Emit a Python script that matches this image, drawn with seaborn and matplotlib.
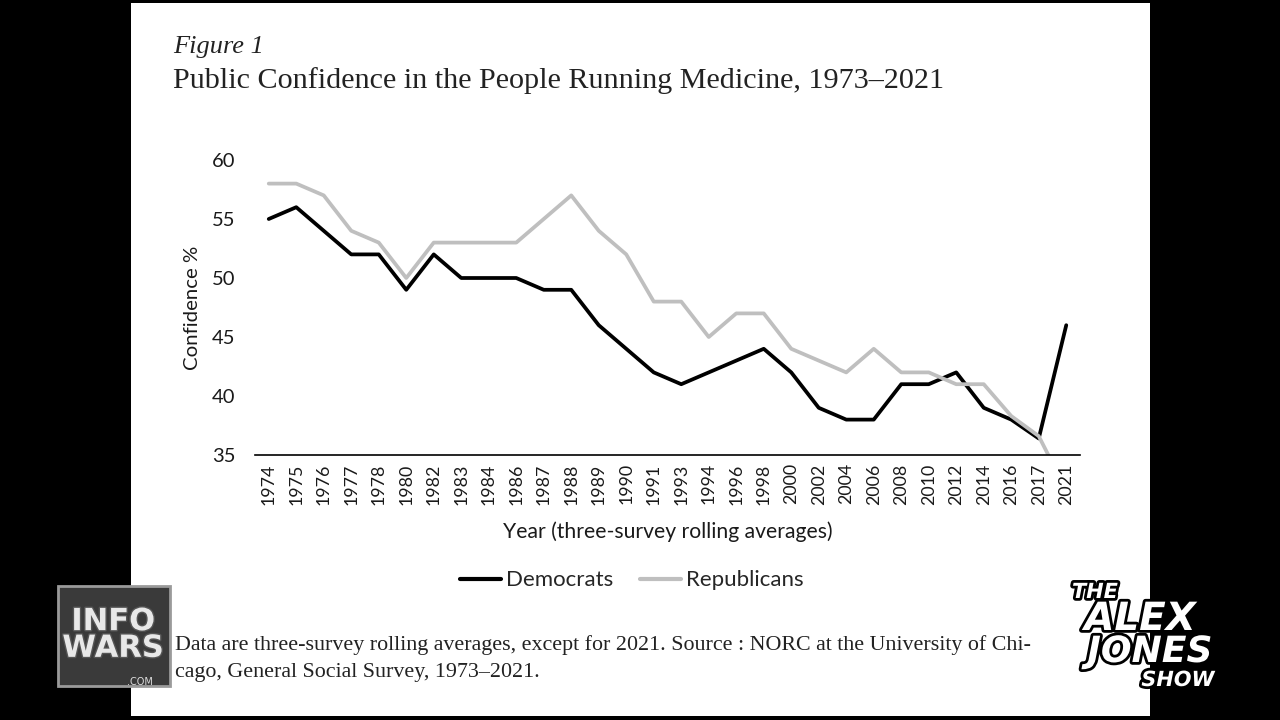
import matplotlib
matplotlib.use("Agg")
import matplotlib.pyplot as plt
import matplotlib.patheffects as pe
from matplotlib.patches import Rectangle
import seaborn as sns
import pandas as pd

years = ["1974", "1975", "1976", "1977", "1978", "1980", "1982", "1983", "1984", "1986",
         "1987", "1988", "1989", "1990", "1991", "1993", "1994", "1996", "1998", "2000",
         "2002", "2004", "2006", "2008", "2010", "2012", "2014", "2016", "2017", "2021"]
democrats = [55, 56, 54, 52, 52, 49, 52, 50, 50, 50,
             49, 49, 46, 44, 42, 41, 42, 43, 44, 42,
             39, 38, 38, 41, 41, 42, 39, 38, 36.4, 46]
republicans = [58, 58, 57, 54, 53, 50, 53, 53, 53, 53,
               55, 57, 54, 52, 48, 48, 45, 47, 47, 44,
               43, 42, 44, 42, 42, 41, 41, 38.3, 36.6, 32]
series_names = ["Democrats", "Republicans"]
yticks = [35, 40, 45, 50, 55, 60]

rows = []
for i, y in enumerate(years):
    rows.append({"pos": i, "Year": y, "value": democrats[i], "party": series_names[0]})
    rows.append({"pos": i, "Year": y, "value": republicans[i], "party": series_names[1]})
df = pd.DataFrame(rows)

sns.set_theme(style="white")
plt.rcParams["font.family"] = ["Lato", "DejaVu Sans"]

fig = plt.figure(figsize=(12.8, 7.2), dpi=100)
fig.patch.set_facecolor("black")
page = Rectangle((131 / 1280, 1 - 716 / 720), (1150 - 131) / 1280, (716 - 3) / 720,
                 transform=fig.transFigure, facecolor="white", edgecolor="none", zorder=-5)
fig.patches.append(page)

ax = fig.add_axes([255 / 1280, 1 - 455 / 720, 825 / 1280, 295 / 720])
ax.set_zorder(1)
ax.set_facecolor("white")
sns.lineplot(data=df, x="pos", y="value", hue="party", palette=["black", "#BFBFBF"],
             hue_order=series_names, linewidth=2.7, ax=ax, legend=True)

ax.set_xlim(-0.5, len(years) - 0.5)
ax.set_ylim(35, 60)
ax.set_yticks(yticks)
ax.set_yticklabels([str(t) for t in yticks], fontsize=14.5, color="#1a1a1a")
ax.set_xticks(range(len(years)))
ax.set_xticklabels(years, rotation=90, fontsize=12.8, color="#1a1a1a")
ax.tick_params(axis="both", length=0)
ax.tick_params(axis="y", pad=14)
ax.tick_params(axis="x", pad=6)
for s in ["top", "right", "left"]:
    ax.spines[s].set_visible(False)
ax.spines["bottom"].set_color("black")
ax.spines["bottom"].set_linewidth(1.2)
ax.spines["bottom"].set_zorder(5)
ax.set_xlabel("Year (three-survey rolling averages)", fontsize=15.2, color="#1a1a1a", labelpad=12)
ax.set_ylabel("Confidence %", fontsize=14.7, color="#1a1a1a", labelpad=8)

leg = ax.legend(loc="center", bbox_to_anchor=(0.457, -0.425), ncol=2, frameon=False,
                fontsize=16, handlelength=1.85, handletextpad=0.23, columnspacing=1.2)
for line in leg.get_lines():
    line.set_linewidth(3)

serif = ["Liberation Serif", "DejaVu Serif"]
fig.text(173 / 1280, 1 - 47 / 720, "Figure 1", fontsize=19, style="italic",
         family=serif, color="#222222", va="center")
fig.text(173 / 1280, 1 - 81 / 720, "Public Confidence in the People Running Medicine, 1973\u20132021",
         fontsize=21.7, family=serif, color="#222222", va="center")
fig.text(175 / 1280, 1 - 645 / 720,
         "Data are three-survey rolling averages, except for 2021. Source : NORC at the University of Chi-",
         fontsize=15.8, family=serif, color="#222222", va="center")
fig.text(175 / 1280, 1 - 673 / 720, "cago, General Social Survey, 1973\u20132021.",
         fontsize=15.8, family=serif, color="#222222", va="center")

# watermark logos
fig.patches.append(Rectangle((58 / 1280, 1 - 686 / 720), 112 / 1280, 100 / 720,
                             transform=fig.transFigure, facecolor="#3a3a3a", edgecolor="#9a9a9a",
                             linewidth=2, zorder=10))
fig.text(113 / 1280, 1 - 635 / 720, "INFO\nWARS", fontsize=22, fontweight="bold",
         family=["DejaVu Sans"], color="#e8e8e8", ha="center", va="center", linespacing=0.9,
         zorder=11, path_effects=[pe.withStroke(linewidth=2, foreground="#555555")])
fig.text(140 / 1280, 1 - 682 / 720, ".COM", fontsize=7, color="#dddddd", ha="center",
         va="center", zorder=11, family=["DejaVu Sans"])
stroke = [pe.withStroke(linewidth=4, foreground="black")]
fig.text(1095 / 1280, 1 - 592 / 720, "THE", fontsize=15, fontweight="bold", style="italic",
         family=["DejaVu Sans"], color="white", ha="center", va="center", zorder=11, path_effects=stroke)
fig.text(1140 / 1280, 1 - 619 / 720, "ALEX", fontsize=28, fontweight="bold", style="italic",
         family=["DejaVu Sans"], color="white", ha="center", va="center", zorder=11, path_effects=stroke)
fig.text(1150 / 1280, 1 - 652 / 720, "JONES", fontsize=26, fontweight="bold", style="italic",
         family=["DejaVu Sans"], color="white", ha="center", va="center", zorder=11, path_effects=stroke)
fig.text(1178 / 1280, 1 - 680 / 720, "SHOW", fontsize=15, fontweight="bold", style="italic",
         family=["DejaVu Sans"], color="white", ha="center", va="center", zorder=11, path_effects=stroke)

fig.savefig("out.png", dpi=100, facecolor=fig.get_facecolor())
